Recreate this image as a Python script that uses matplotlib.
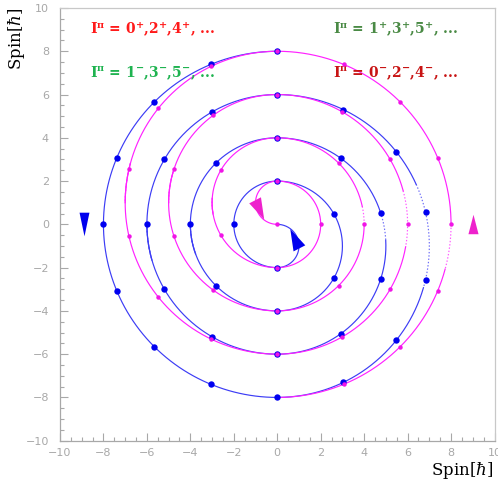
import numpy as np
import matplotlib
matplotlib.use("Agg")
import matplotlib.pyplot as plt
from matplotlib.patches import Polygon
from matplotlib.ticker import MultipleLocator

plt.rcParams['mathtext.fontset'] = 'custom'
plt.rcParams['mathtext.rm'] = 'DejaVu Serif:bold'
plt.rcParams['mathtext.it'] = 'DejaVu Serif:bold'
plt.rcParams['mathtext.bf'] = 'DejaVu Serif:bold'

# spiral made of semicircles, radius 1..8
radii = [1, 2, 3, 4, 5, 6, 7, 8]
# blue: odd radius -> right half around (0,-1), even -> left half around (0,0)
blue_center_y = [-1, 0, -1, 0, -1, 0, -1, 0]
blue_start_deg = [90, 270, 90, 270, 90, 270, 90, 270]
blue_end_deg = [-90, 90, -90, 90, -90, 90, -90, 90]
# magenta is the same spiral turned by 180 degrees
mag_center_y = [1, 0, 1, 0, 1, 0, 1, 0]
mag_start_deg = [270, 90, 270, 90, 270, 90, 270, 90]
mag_end_deg = [90, -90, 90, -90, 90, -90, 90, -90]
# states per semicircle (one every pi of arc length)
states_per_arc = [1, 2, 3, 4, 5, 6, 7, 8]

# parts of the curves that come out dotted in the original (arc index, from, to)
blue_dotted = [(3, 180, 200), (4, 18, 3), (5, 180, 196), (6, 24, -16)]
mag_dotted = [(2, 176, 190), (3, 12, 0), (4, 162, 180), (5, 15, -10), (6, 165, 180), (7, 0, -15)]

labels = [r'I$^{\pi}$ = 0$^{+}$,2$^{+}$,4$^{+}$, ...',
          r'I$^{\pi}$ = 1$^{-}$,3$^{-}$,5$^{-}$, ...',
          r'I$^{\pi}$ = 1$^{+}$,3$^{+}$,5$^{+}$, ...',
          r'I$^{\pi}$ = 0$^{-}$,2$^{-}$,4$^{-}$, ...']
label_colors = ['#ff1a1a', '#1fb350', '#4a8a45', '#c81414']
label_x = [-8.6, -8.6, 2.55, 2.55]
label_y = [8.8, 6.8, 8.8, 6.8]

# direction markers
outer_marker_x = [-8.9, 9.0]
outer_marker_y = [0.0, 0.0]
inner_tip = [(-0.60, 0.22), (0.60, -0.22)]
inner_base = [[(-1.29, 0.97), (-0.75, 1.25)], [(1.29, -0.97), (0.75, -1.25)]]

BLUE_LINE = '#3c3cf5'
BLUE_DOT = '#0000f0'
MAG_LINE = '#ff22ff'
MAG_DOT = '#f015e6'
GRAY = '#a8a8a8'


def arc(cy, r, a0, a1, n=300):
    t = np.radians(np.linspace(a0, a1, n))
    return r * np.cos(t), cy + r * np.sin(t)


def draw_spiral(ax, cys, a0s, a1s, dotted, color):
    dmap = {d[0]: (d[1], d[2]) for d in dotted}
    for i, r in enumerate(radii):
        a0, a1 = a0s[i], a1s[i]
        if i in dmap:
            d0, d1 = dmap[i]
            x, y = arc(cys[i], r, a0, d0)
            ax.plot(x, y, color=color, lw=0.85)
            x, y = arc(cys[i], r, d0, d1, 60)
            ax.plot(x, y, color=color, lw=0.85, ls=(0, (1.2, 1.6)), alpha=0.75)
            x, y = arc(cys[i], r, d1, a1)
            ax.plot(x, y, color=color, lw=0.85)
        else:
            x, y = arc(cys[i], r, a0, a1)
            ax.plot(x, y, color=color, lw=0.85)


def spiral_states(cys, a0s, a1s):
    pts = []
    for i, r in enumerate(radii):
        t = np.radians(np.linspace(a0s[i], a1s[i], states_per_arc[i] + 1))
        for tt in (t if i == 0 else t[1:]):
            pts.append((r * np.cos(tt), cys[i] + r * np.sin(tt)))
    return np.array(pts)


fig = plt.figure(figsize=(4.98, 4.90), dpi=100)
ax = fig.add_axes([60 / 498, 49.3 / 490, 434.5 / 498, 432.7 / 490])

draw_spiral(ax, blue_center_y, blue_start_deg, blue_end_deg, blue_dotted, BLUE_LINE)
draw_spiral(ax, mag_center_y, mag_start_deg, mag_end_deg, mag_dotted, MAG_LINE)

blue_pts = spiral_states(blue_center_y, blue_start_deg, blue_end_deg)[1:]
mag_pts = spiral_states(mag_center_y, mag_start_deg, mag_end_deg)[:-1]
ax.plot(blue_pts[:, 0], blue_pts[:, 1], 'o', color=BLUE_DOT, ms=4.6, mec='none', zorder=4)
ax.plot(mag_pts[:, 0], mag_pts[:, 1], 'o', color=MAG_DOT, ms=3.2, mec='none', zorder=5)

# outer direction triangles
down_tri = [(-0.21, 0.5), (0.21, 0.5), (0, -0.5)]
up_tri = [(-0.26, -0.5), (0.26, -0.5), (0, 0.5)]
ax.plot(outer_marker_x[0], outer_marker_y[0], marker=down_tri, color='#0000ee', ms=17, mec='none')
ax.plot(outer_marker_x[1], outer_marker_y[1], marker=up_tri, color='#ee22cc', ms=14, mec='none')

# inner arrow heads
for tip, base, c in zip(inner_tip, inner_base, ['#ee22cc', '#0000ee']):
    ax.add_patch(Polygon([base[0], base[1], tip], closed=True, color=c, lw=0, zorder=6))

for s, c, x, y in zip(labels, label_colors, label_x, label_y):
    ax.text(x, y, s, color=c, fontsize=10, fontweight='bold', family='DejaVu Serif',
            math_fontfamily='custom', va='baseline')

ax.set_xlim(-10, 10)
ax.set_ylim(-10, 10)
ax.xaxis.set_major_locator(MultipleLocator(2))
ax.yaxis.set_major_locator(MultipleLocator(2))
ax.xaxis.set_minor_locator(MultipleLocator(0.5))
ax.yaxis.set_minor_locator(MultipleLocator(0.5))
ax.tick_params(which='both', direction='in', color=GRAY, labelcolor=GRAY, labelsize=8,
               top=False, right=False)
ax.tick_params(which='major', length=5.8, width=0.8)
ax.tick_params(which='minor', length=2.9, width=0.8)
ax.tick_params(axis='x', pad=5)
ax.tick_params(axis='y', pad=8)
for sp in ax.spines.values():
    sp.set_color('#c8c8c8')
    sp.set_linewidth(0.9)
ax.spines['left'].set_color(GRAY)
ax.spines['bottom'].set_color(GRAY)

ax.set_xlabel(r'Spin[$\hbar$]', fontsize=12, family='DejaVu Serif', math_fontfamily='dejavuserif')
ax.set_ylabel(r'Spin[$\hbar$]', fontsize=12, family='DejaVu Serif', math_fontfamily='dejavuserif')
ax.xaxis.set_label_coords(0.997, -0.045)
ax.xaxis.label.set_ha('right')
ax.yaxis.set_label_coords(-0.075, 1.0)
ax.yaxis.label.set_ha('right')

fig.savefig('out.png', dpi=100)
